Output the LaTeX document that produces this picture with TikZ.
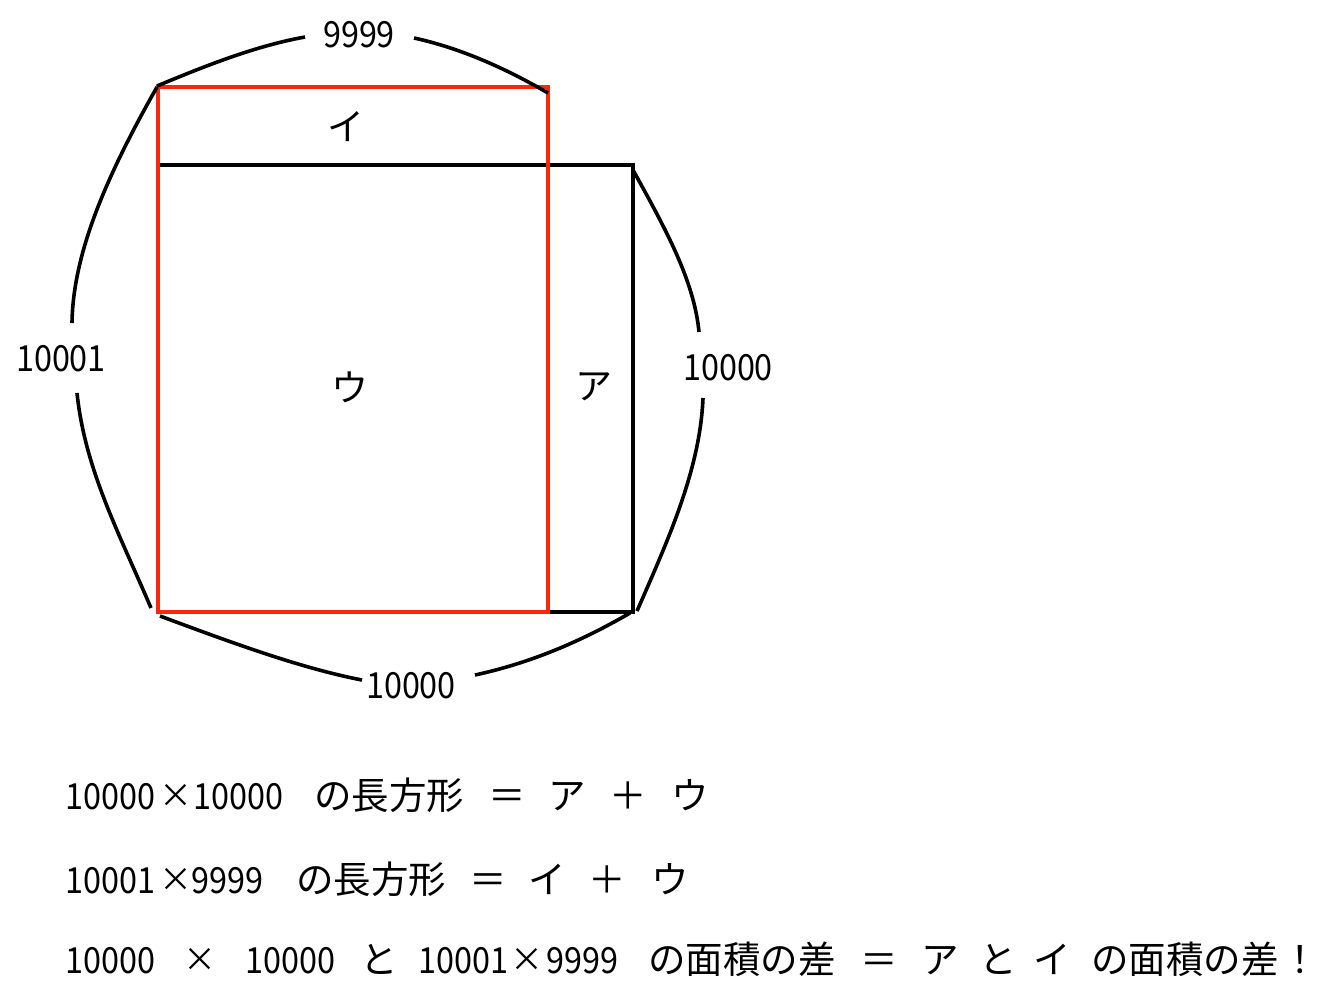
\documentclass[tikz,border=0pt]{standalone}
\usepackage{fontspec}
\setmainfont{Noto Sans CJK JP}
\newfontfamily\digitfont[FakeStretch=0.9]{Noto Sans CJK JP}
\definecolor{redline}{RGB}{250,40,10}
\begin{document}
\begin{tikzpicture}[x=1pt,y=-1pt,
  edge/.style={draw=black,line width=4pt},
  brace/.style={draw=black,line width=3.6pt},
  redbox/.style={draw=redline,line width=4pt},
  num/.style={inner sep=0pt,anchor=base,font=\digitfont\fontsize{36}{40}\selectfont},
  numw/.style={inner sep=0pt,anchor=base west,font=\digitfont\fontsize{36}{40}\selectfont},
  times/.style={inner sep=0pt,anchor=base,font=\fontsize{33}{36}\selectfont},
  jpc/.style={inner sep=0pt,anchor=base,font=\fontsize{37.5}{40}\selectfont},
  jpw/.style={inner sep=0pt,anchor=base west,font=\fontsize{37.5}{40}\selectfont},
  area/.style={inner sep=0pt,anchor=center,font=\fontsize{37}{40}\selectfont}]
\fill[white] (0,0) rectangle (1321,989);
\useasboundingbox (0,0) rectangle (1321,989);
% rectangles
\coordinate (bTL) at (158,165);
\coordinate (bBR) at (633,612);
\coordinate (rTL) at (158,87);
\coordinate (rBR) at (548,612);
\draw[edge] (bTL) rectangle (bBR);
\draw[redbox] (rTL) rectangle (rBR);
% area labels
\node[area] (i) at (346,127) {イ};
\node[area] (u) at (350,387) {ウ};
\node[area] (a) at (594,387) {ア};
% dimension labels
\node[num] (ltop) at (359,47) {9999};
\node[num] (lleft) at (61,371) {10001};
\node[num] (lright) at (728,380) {10000};
\node[num] (lbot) at (411,698) {10000};
% brace curves
\coordinate (t1) at (157,86);
\coordinate (t2) at (305,37);
\coordinate (t3) at (414,38);
\coordinate (t4) at (548,93);
\draw[brace] (t1) .. controls (205,66) and (255,46) .. (t2);
\draw[brace] (t3) .. controls (460,48) and (505,68) .. (t4);
\coordinate (l1) at (157,87);
\coordinate (l2) at (72,323);
\coordinate (l3) at (77,393);
\coordinate (l4) at (151,608);
\draw[brace] (l1) .. controls (110,170) and (73,250) .. (l2);
\draw[brace] (l3) .. controls (85,470) and (120,535) .. (l4);
\coordinate (r1) at (633,170);
\coordinate (r2) at (699,332);
\coordinate (r3) at (703,398);
\coordinate (r4) at (637,611);
\draw[brace] (r1) .. controls (665,228) and (694,280) .. (r2);
\draw[brace] (r3) .. controls (700,470) and (668,540) .. (r4);
\coordinate (b1) at (160,616);
\coordinate (b2) at (362,680);
\coordinate (b3) at (475,675);
\coordinate (b4) at (630,613);
\draw[brace] (b1) .. controls (230,642) and (300,668) .. (b2);
\draw[brace] (b3) .. controls (530,663) and (580,642) .. (b4);
% line 1
\node[numw] (l1a) at (65,809) {10000};
\node[times] (l1x) at (176,807) {×};
\node[numw] (l1y) at (193,809) {10000};
\node[jpw] (l1b) at (314,809) {の長方形};
\node[jpc] (l1c) at (507,809) {＝};
\node[jpc] (l1d) at (567,809) {ア};
\node[jpc] (l1e) at (628,809) {＋};
\node[jpc] (l1f) at (690,809) {ウ};
% line 2
\node[numw] (l2a) at (65,893) {10001};
\node[times] (l2x) at (176,891) {×};
\node[numw] (l2y) at (191,893) {9999};
\node[jpw] (l2b) at (296,893) {の長方形};
\node[jpc] (l2c) at (488,893) {＝};
\node[jpc] (l2d) at (547,893) {イ};
\node[jpc] (l2e) at (607,893) {＋};
\node[jpc] (l2f) at (670,893) {ウ};
% line 3
\node[numw] (l3a) at (65,973) {10000};
\node[times] (l3b) at (200,971) {×};
\node[numw] (l3c) at (245,973) {10000};
\node[jpc] (l3d) at (379,973) {と};
\node[numw] (l3e) at (418,973) {10001};
\node[times] (l3x) at (527,971) {×};
\node[numw] (l3y) at (546,973) {9999};
\node[jpw] (l3f) at (648,973) {の面積の差};
\node[jpc] (l3g) at (879,973) {＝};
\node[jpc] (l3h) at (940,973) {ア};
\node[jpc] (l3i) at (998,973) {と};
\node[jpc] (l3j) at (1052,973) {イ};
\node[jpw] (l3k) at (1091,973) {の面積の差};
\node[jpc] (l3l) at (1300,973) {！};
\end{tikzpicture}
\end{document}
